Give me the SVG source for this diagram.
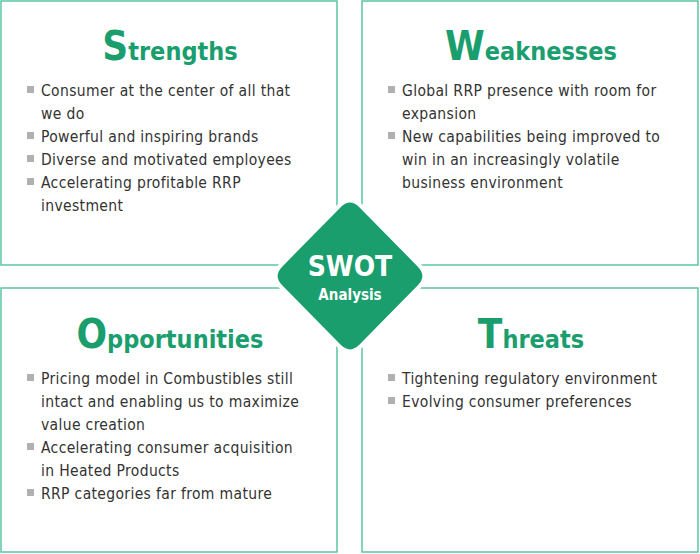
<svg xmlns="http://www.w3.org/2000/svg" width="700" height="554" viewBox="0 0 700 554">
<style>
.box{fill:#fff;stroke:#5cc4a0;stroke-width:1.5}
.h{font-family:"DejaVu Sans Condensed","Liberation Sans",sans-serif;font-weight:bold;fill:#1a9e6e;font-size:25px}
.cap{font-size:40px}
.t{font-family:"DejaVu Sans Condensed","Liberation Sans",sans-serif;font-size:15.5px;letter-spacing:0.35px;fill:#333}
.b{fill:#b0b0b0}
.w{font-family:"DejaVu Sans Condensed","Liberation Sans",sans-serif;font-weight:bold;fill:#fff;text-anchor:middle}
</style>
<rect width="700" height="554" fill="#fff"/>
<g id="strengths">
<rect class="box" x="1" y="1" width="336" height="264"/>
<text class="h" x="170" y="60" text-anchor="middle"><tspan class="cap">S</tspan>trengths</text>
<rect class="b" x="27" y="86" width="7" height="7"/><text class="t" x="41" y="96">Consumer at the center of all that</text>
<text class="t" x="41" y="119">we do</text>
<rect class="b" x="27" y="132" width="7" height="7"/><text class="t" x="41" y="142">Powerful and inspiring brands</text>
<rect class="b" x="27" y="155" width="7" height="7"/><text class="t" x="41" y="165">Diverse and motivated employees</text>
<rect class="b" x="27" y="178" width="7" height="7"/><text class="t" x="41" y="188">Accelerating profitable RRP</text>
<text class="t" x="41" y="211">investment</text>
</g>
<g id="weaknesses">
<rect class="box" x="362" y="1" width="336" height="264"/>
<text class="h" x="531" y="60" text-anchor="middle"><tspan class="cap">W</tspan>eaknesses</text>
<rect class="b" x="388" y="86" width="7" height="7"/><text class="t" x="402" y="96">Global RRP presence with room for</text>
<text class="t" x="402" y="119">expansion</text>
<rect class="b" x="388" y="132" width="7" height="7"/><text class="t" x="402" y="142">New capabilities being improved to</text>
<text class="t" x="402" y="165">win in an increasingly volatile</text>
<text class="t" x="402" y="188">business environment</text>
</g>
<g id="opportunities">
<rect class="box" x="1" y="288" width="336" height="264"/>
<text class="h" x="170" y="348" text-anchor="middle"><tspan class="cap">O</tspan>pportunities</text>
<rect class="b" x="27" y="374" width="7" height="7"/><text class="t" x="41" y="384">Pricing model in Combustibles still</text>
<text class="t" x="41" y="407">intact and enabling us to maximize</text>
<text class="t" x="41" y="430">value creation</text>
<rect class="b" x="27" y="443" width="7" height="7"/><text class="t" x="41" y="453">Accelerating consumer acquisition</text>
<text class="t" x="41" y="476">in Heated Products</text>
<rect class="b" x="27" y="489" width="7" height="7"/><text class="t" x="41" y="499">RRP categories far from mature</text>
</g>
<g id="threats">
<rect class="box" x="362" y="288" width="336" height="264"/>
<text class="h" x="531" y="348" text-anchor="middle"><tspan class="cap">T</tspan>hreats</text>
<rect class="b" x="388" y="374" width="7" height="7"/><text class="t" x="402" y="384">Tightening regulatory environment</text>
<rect class="b" x="388" y="397" width="7" height="7"/><text class="t" x="402" y="407">Evolving consumer preferences</text>
</g>
<g id="connectors"></g>
<g id="swot">
<path d="M339,206 Q350,195 361,206 L419,265 Q430,276 419,287 L361,346 Q350,357 339,346 L281,287 Q270,276 281,265 Z" fill="#1a9e6e" stroke="#fff" stroke-width="4"/>
<text class="w" x="350" y="276" font-size="28">SWOT</text>
<text class="w" x="350" y="300" font-size="15">Analysis</text>
</g>
</svg>
